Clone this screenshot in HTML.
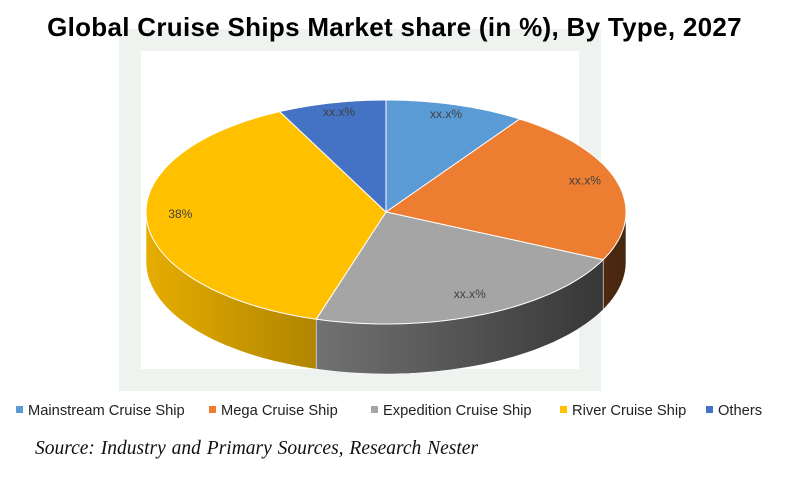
<!DOCTYPE html>
<html><head><meta charset="utf-8"><style>
body{margin:0;background:#fff;}
#wrap{position:relative;width:789px;height:481px;overflow:hidden;font-family:"Liberation Sans",sans-serif;}
#title{position:absolute;left:0;width:789px;top:12px;text-align:center;font-weight:bold;font-size:26px;letter-spacing:0.3px;color:#000;}
.leg{position:absolute;top:403px;font-size:14.7px;color:#222;white-space:nowrap;}
.leg i{display:inline-block;width:7px;height:7px;margin-right:5px;vertical-align:2px;}
#src{position:absolute;left:35px;top:438px;font-family:"Liberation Serif",serif;font-style:italic;font-size:19.5px;color:#111;word-spacing:1px;}
</style></head><body>
<div id="wrap">
<svg id="bg" width="789" height="481" style="position:absolute;left:0;top:0">
<rect x="130" y="40" width="460" height="340" fill="none" stroke="#eef3f0" stroke-width="22"/>
</svg>
<div id="title">Global Cruise Ships Market share (in %), By Type, 2027</div>
<svg id="pie" width="789" height="481" style="position:absolute;left:0;top:0"></svg>
<div class="leg" style="left:16px"><i style="background:#5B9BD5"></i>Mainstream Cruise Ship</div>
<div class="leg" style="left:209px"><i style="background:#ED7D31"></i>Mega Cruise Ship</div>
<div class="leg" style="left:371px"><i style="background:#A5A5A5"></i>Expedition Cruise Ship</div>
<div class="leg" style="left:560px"><i style="background:#FFC000"></i>River Cruise Ship</div>
<div class="leg" style="left:706px"><i style="background:#4472C4"></i>Others</div>
<div id="src">Source: Industry and Primary Sources, Research Nester</div>
</div>
<script>
const categories=["Mainstream Cruise Ship","Mega Cruise Ship","Expedition Cruise Ship","River Cruise Ship","Others"];
const values=[9.4,22.6,22.7,38,7.3];
const labels=["xx.x%","xx.x%","xx.x%","38%","xx.x%"];
const colors=["#5B9BD5","#ED7D31","#A5A5A5","#FFC000","#4472C4"];
const NS="http://www.w3.org/2000/svg";
const svg=document.getElementById('pie');
const cx=386,cy=212,rx=240,ry=112,depth=50;
const total=values.reduce((a,b)=>a+b,0);
function pt(a,dy){return [cx+rx*Math.sin(a),cy-ry*Math.cos(a)+(dy||0)];}
function shade(hex,f){const n=parseInt(hex.slice(1),16);const r=Math.round(((n>>16)&255)*f),g=Math.round(((n>>8)&255)*f),b=Math.round((n&255)*f);return `rgb(${r},${g},${b})`;}
const defs=document.createElementNS(NS,'defs');svg.appendChild(defs);
let angles=[];let acc=0;
values.forEach(v=>{const a1=acc/total*2*Math.PI;acc+=v;angles.push([a1,acc/total*2*Math.PI]);});
values.forEach((v,i)=>{
  const g=document.createElementNS(NS,'linearGradient');
  g.setAttribute('id','g'+i);g.setAttribute('gradientUnits','userSpaceOnUse');
  g.setAttribute('x1',cx-rx);g.setAttribute('x2',cx+rx);g.setAttribute('y1',0);g.setAttribute('y2',0);
  g.innerHTML=`<stop offset="0" stop-color="${shade(colors[i],0.9)}"/><stop offset="1" stop-color="${shade(colors[i],0.3)}"/>`;
  defs.appendChild(g);
  let a1=Math.max(angles[i][0],Math.PI/2),a2=Math.min(angles[i][1],3*Math.PI/2);
  if(a2<=a1)return;
  const steps=40;let d='';
  for(let k=0;k<=steps;k++){const a=a1+(a2-a1)*k/steps;const p=pt(a);d+=(k?'L':'M')+p[0].toFixed(1)+','+p[1].toFixed(1);}
  for(let k=steps;k>=0;k--){const a=a1+(a2-a1)*k/steps;const p=pt(a,depth);d+='L'+p[0].toFixed(1)+','+p[1].toFixed(1);}
  const path=document.createElementNS(NS,'path');
  path.setAttribute('d',d+'Z');path.setAttribute('fill','url(#g'+i+')');path.setAttribute('stroke','#fff');path.setAttribute('stroke-width','0.6');
  
  
  svg.appendChild(path);
});
values.forEach((v,i)=>{
  const [a1,a2]=angles[i];const steps=60;let d='M'+cx+','+cy;
  for(let k=0;k<=steps;k++){const a=a1+(a2-a1)*k/steps;const p=pt(a);d+='L'+p[0].toFixed(1)+','+p[1].toFixed(1);}
  const path=document.createElementNS(NS,'path');
  path.setAttribute('d',d+'Z');path.setAttribute('fill',colors[i]);path.setAttribute('stroke','#fff');path.setAttribute('stroke-width','1');
  
  
  svg.appendChild(path);
  const mid=(a1+a2)/2;const f=0.86;
  const lx=cx+rx*f*Math.sin(mid),ly=cy-ry*f*Math.cos(mid);
  const t=document.createElementNS(NS,'text');
  t.setAttribute('x',lx.toFixed(1));t.setAttribute('y',(ly-2).toFixed(1));t.setAttribute('text-anchor','middle');
  t.setAttribute('font-size','12');t.setAttribute('fill','#404040');t.setAttribute('font-family','Liberation Sans, sans-serif');
  t.textContent=labels[i];
  
  
  svg.appendChild(t);
});
</script>
</body></html>
